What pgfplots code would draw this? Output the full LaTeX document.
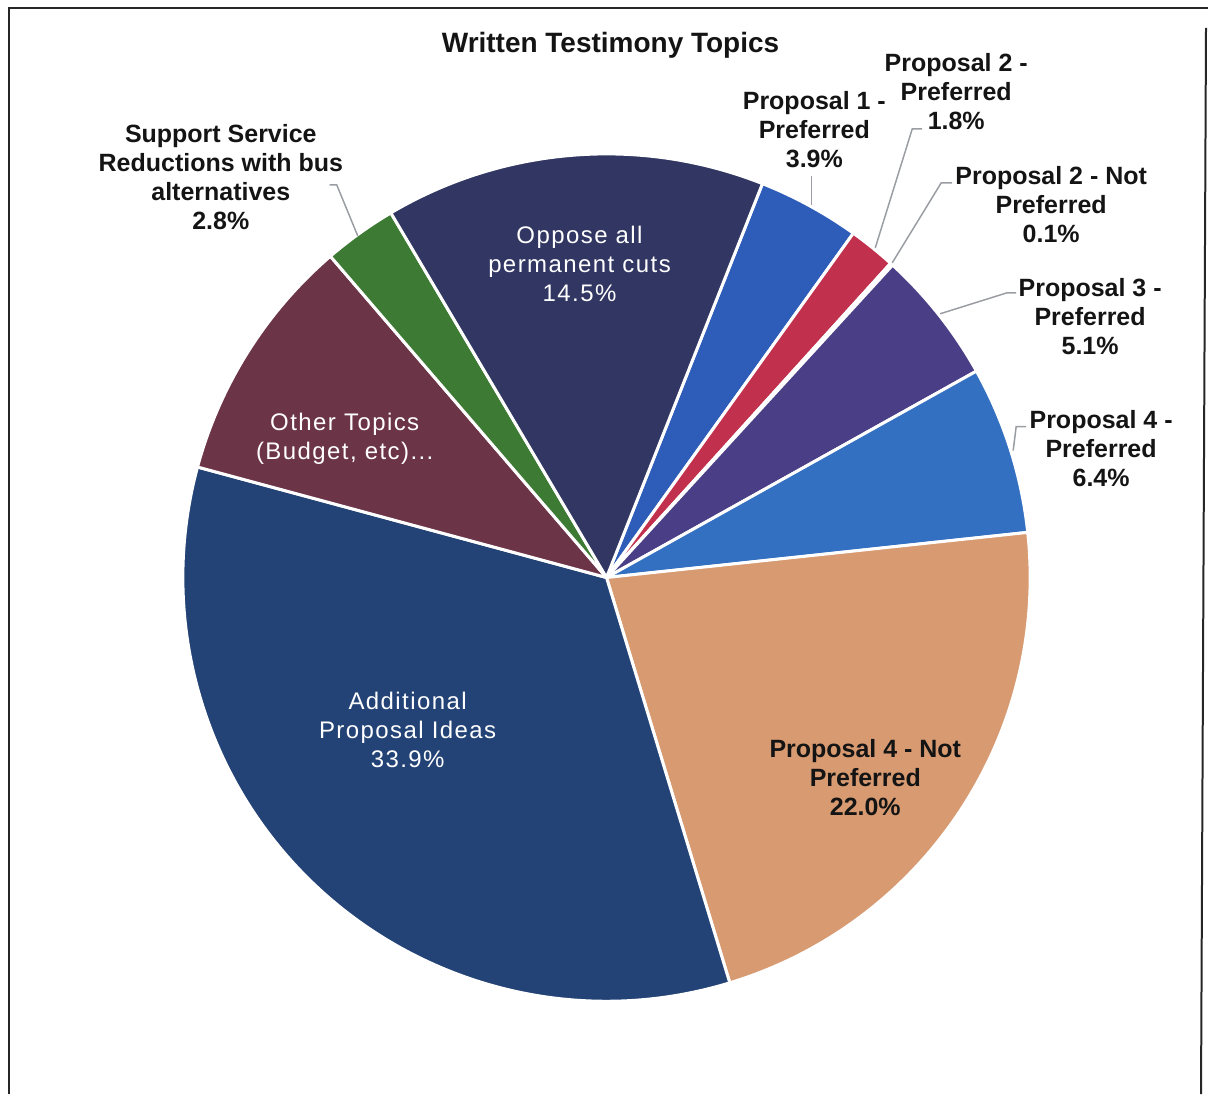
\documentclass[border=0pt]{standalone}
\usepackage{pgfplots}
\usepackage{pgfplotstable}
\pgfplotsset{compat=1.18}
\usepackage{fontspec}
\setmainfont{Liberation Sans}
\newfontfamily\spaced[LetterSpace=6]{Liberation Sans}

% slice colours, in table order
\definecolor{slice0}{HTML}{2E5DB9} % Proposal 1 - Preferred
\definecolor{slice1}{HTML}{C1304D} % Proposal 2 - Preferred
\definecolor{slice2}{HTML}{8A6FB0} % Proposal 2 - Not Preferred
\definecolor{slice3}{HTML}{4A3F86} % Proposal 3 - Preferred
\definecolor{slice4}{HTML}{3470C1} % Proposal 4 - Preferred
\definecolor{slice5}{HTML}{D79A71} % Proposal 4 - Not Preferred
\definecolor{slice6}{HTML}{234376} % Additional Proposal Ideas
\definecolor{slice7}{HTML}{6C3447} % Other Topics
\definecolor{slice8}{HTML}{3D7A34} % Support Service Reductions
\definecolor{slice9}{HTML}{313762} % Oppose all permanent cuts
\definecolor{leader}{HTML}{9A9EA3}

\tikzset{
    outlbl/.style={align=center, text=black!92,
        font=\bfseries\fontsize{12.5}{14.5}\selectfont},
    inlbl/.style={align=center, text=white,
        font=\spaced\fontsize{12}{14.5}\selectfont},
    lead/.style={draw=leader, line width=0.75pt},
}

\pgfplotstableread[col sep=comma]{
topic,share
Proposal 1 - Preferred,3.9
Proposal 2 - Preferred,1.8
Proposal 2 - Not Preferred,0.1
Proposal 3 - Preferred,5.1
Proposal 4 - Preferred,6.4
Proposal 4 - Not Preferred,22.0
Additional Proposal Ideas,33.9
Other Topics (Budget etc),9.5
Support Service Reductions with bus alternatives,2.8
Oppose all permanent cuts,14.5
}\topics

\begin{document}
\begin{tikzpicture}
% cumulative angles, clockwise from the first slice
\pgfplotstablegetrowsof{\topics}
\pgfmathtruncatemacro\lastrow{\pgfplotsretval-1}
\xdef\runangle{68.4}
\pgfplotsforeachungrouped \i in {0,...,\lastrow}{%
  \pgfplotstablegetelem{\i}{share}\of\topics
  \pgfmathsetmacro\nextangle{\runangle-3.6*\pgfplotsretval}%
  \expandafter\xdef\csname startangle\i\endcsname{\runangle}%
  \expandafter\xdef\csname endangle\i\endcsname{\nextangle}%
  \xdef\runangle{\nextangle}%
}
\begin{axis}[
    x=0.5pt, y=0.5pt,
    xmin=0, xmax=1209, ymin=0, ymax=1095,
    y dir=reverse,
    hide axis, clip=false,
]
\path (axis cs:0,0) rectangle (axis cs:1209,1095);

% frame
\draw[black!85, line width=1pt] (axis cs:9,1095) -- (axis cs:9,8) -- (axis cs:1209,8);
\draw[black!85, line width=1pt] (axis cs:1207,28) -- (axis cs:1202,1095);

% slices
\pgfplotsinvokeforeach{0,...,9}{
  \fill[slice#1, draw=white, line width=1.5pt, line join=round]
    (axis cs:607,578) -- ++(\csname startangle#1\endcsname:212pt)
    arc[start angle=\csname startangle#1\endcsname,
        end angle=\csname endangle#1\endcsname, radius=212pt] -- cycle;
}

% title
\node[font=\bfseries\fontsize{14}{17}\selectfont, text=black!92] at (axis cs:611,45) {Written Testimony Topics};

% leader lines
\draw[lead] (axis cs:812,176) -- (axis cs:812,205);
\draw[lead] (axis cs:923,129) -- (axis cs:913,129) -- (axis cs:876,248);
\draw[lead] (axis cs:953,183) -- (axis cs:942,183) -- (axis cs:893,263);
\draw[lead] (axis cs:1017,293) -- (axis cs:1008,293) -- (axis cs:941,314);
\draw[lead] (axis cs:1027,427) -- (axis cs:1017,427) -- (axis cs:1014,451);
\draw[lead] (axis cs:330,185) -- (axis cs:337,185) -- (axis cs:358,236);

% outside labels
\node[outlbl] at (axis cs:815,130) {Proposal 1 -\\Preferred\\3.9\%};
\node[outlbl] at (axis cs:957,92) {Proposal 2 -\\Preferred\\1.8\%};
\node[outlbl] at (axis cs:1052,205) {Proposal 2 - Not\\Preferred\\0.1\%};
\node[outlbl] at (axis cs:1091,317) {Proposal 3 -\\Preferred\\5.1\%};
\node[outlbl] at (axis cs:1102,449) {Proposal 4 -\\Preferred\\6.4\%};
\node[outlbl] at (axis cs:221,177) {Support Service\\Reductions with bus\\alternatives\\2.8\%};
\node[outlbl] at (axis cs:866,778) {Proposal 4 - Not\\Preferred\\22.0\%};

% inside labels
\node[inlbl] at (axis cs:580,264) {Oppose all\\permanent cuts\\14.5\%};
\node[inlbl] at (axis cs:345,439) {Other Topics\\(Budget, etc)...};
\node[inlbl] at (axis cs:408,731) {Additional\\Proposal Ideas\\33.9\%};
\end{axis}
\end{tikzpicture}
\end{document}
